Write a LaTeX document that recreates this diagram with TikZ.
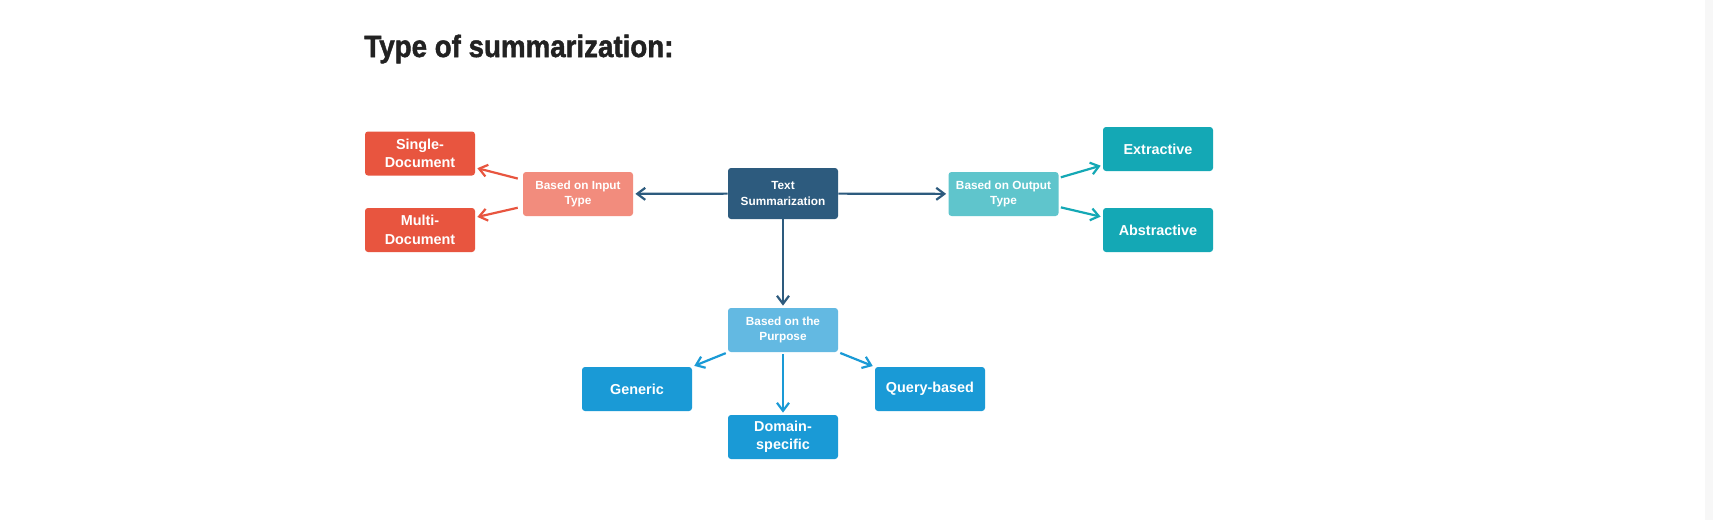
\documentclass[tikz,border=0pt]{standalone}
\usepackage{fontspec}
\setmainfont{Liberation Sans}
\newfontfamily\heavyfont[BoldFeatures={FakeBold=1.6}]{Liberation Sans}
\usepackage{xcolor}
\usepackage{tikz}
\usetikzlibrary{arrows.meta}
\definecolor{rootbl}{HTML}{2D5B7E}
\definecolor{inlt}{HTML}{F28C7D}
\definecolor{indk}{HTML}{E8553F}
\definecolor{outlt}{HTML}{5FC5CC}
\definecolor{outdk}{HTML}{14A8B5}
\definecolor{purlt}{HTML}{63B9E2}
\definecolor{purdk}{HTML}{1A9AD6}
\definecolor{ink}{HTML}{222222}
\tikzset{
  box/.style={rounded corners=1.5pt,text=white,align=center,minimum width=55pt,minimum height=22pt,inner sep=1pt,font=\bfseries\fontsize{7.2}{9.2}\selectfont},
  sub/.style={box,font=\bfseries\fontsize{5.9}{7.6}\selectfont},
  conn/.style={line width=1.1pt,-{Straight Barb[length=4pt,width=6pt,line width=1.1pt]},shorten >=1pt}
}
\begin{document}
\begin{tikzpicture}[x=0.5pt,y=-0.5pt]
  \useasboundingbox (0,0) rectangle (1713,520);
  \fill[white] (0,0) rectangle (1713,520);
  \fill[black!3] (1705,0) rectangle (1713,520);
  \node[anchor=base west,inner sep=0,text=ink] (title) at (364,57) {\scalebox{0.9}[1]{\heavyfont\bfseries\fontsize{15.4}{18}\selectfont Type of summarization:}};
  % root and the three groups
  \node[sub,fill=rootbl,minimum height=25.5pt] (txt) at (783,193.5) {Text\\Summarization};
  \node[sub,fill=inlt] (inp) at (578,194) {Based on Input\\Type};
  \node[sub,fill=outlt] (outp) at (1003.5,194) {Based on Output\\Type};
  \node[sub,fill=purlt] (purp) at (783,330) {Based on the\\Purpose};
  % leaves
  \node[box,fill=indk] (single) at (420,153.5) {Single-\\Document};
  \node[box,fill=indk] (multi) at (420,230) {Multi-\\Document};
  \node[box,fill=outdk] (extr) at (1158,149) {Extractive};
  \node[box,fill=outdk] (abst) at (1158,230) {Abstractive};
  \node[box,fill=purdk] (gen) at (637,389) {Generic};
  \node[box,fill=purdk] (dom) at (783,437) {Domain-\\specific};
  \node[box,fill=purdk] (query) at (930,389) {Query-based};
  \draw[conn,rootbl](txt)--(inp);
  \draw[conn,rootbl](txt)--(outp);
  \draw[conn,rootbl](txt)--(purp);
  \foreach \n in {single,multi}{\draw[conn,indk,shorten <=2.5pt](inp)--(\n);}
  \foreach \n in {extr,abst}{\draw[conn,outdk,shorten <=1pt](outp)--(\n);}
  \foreach \n in {gen,dom,query}{\draw[conn,purdk,shorten <=1pt](purp)--(\n);}
\end{tikzpicture}
\end{document}
